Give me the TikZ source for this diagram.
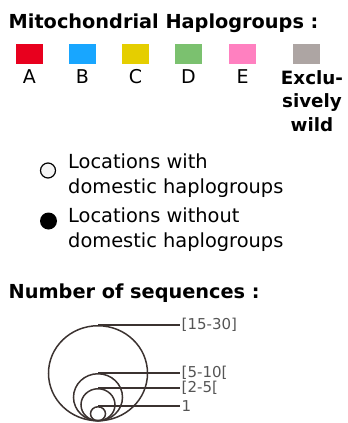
\documentclass[tikz,border=0pt]{standalone}
\usepackage{fontspec}
\setmainfont{DejaVu Sans}
\usetikzlibrary{shapes.geometric}
\definecolor{hapA}{HTML}{E8001E}
\definecolor{hapB}{HTML}{18A6FF}
\definecolor{hapC}{HTML}{E5CE00}
\definecolor{hapD}{HTML}{7BC16F}
\definecolor{hapE}{HTML}{FF80C0}
\definecolor{hapW}{HTML}{ADA5A3}
\definecolor{ringcol}{HTML}{3B3230}
\definecolor{sizetext}{HTML}{555555}
\begin{document}
\begin{tikzpicture}[x=1pt,y=-1pt,
  heading/.style={anchor=base west,inner sep=0pt,font=\bfseries\fontsize{19.3}{23}\selectfont},
  swatch/.style={rectangle,draw=none,minimum width=27pt,minimum height=20pt,inner sep=0pt},
  swlabel/.style={anchor=base,inner sep=0pt,font=\fontsize{19}{22}\selectfont},
  legtext/.style={anchor=north west,inner sep=0pt,align=left,font=\fontsize{19.4}{25.2}\selectfont},
  ring/.style={ellipse,draw=ringcol,line width=1.5pt,inner sep=0pt,anchor=south},
  lead/.style={draw=ringcol,line width=1.1pt},
  sizelabel/.style={anchor=west,inner sep=1.5pt,text=sizetext,font=\fontsize{15}{17}\selectfont}]
\useasboundingbox (0,0) rectangle (348,423);

% Haplogroup colour key
\node[heading] (title) at (8.5,28) {Mitochondrial Haplogroups :};
\node[swatch,fill=hapA] (sA) at (29.3,54) {};
\node[swatch,fill=hapB] (sB) at (82.5,54) {};
\node[swatch,fill=hapC] (sC) at (135.5,54) {};
\node[swatch,fill=hapD] (sD) at (188.5,54) {};
\node[swatch,fill=hapE] (sE) at (242.5,54) {};
\node[swatch,fill=hapW] (sW) at (306.5,54) {};
\node[swlabel] (lA) at (29.3,83) {A};
\node[swlabel] (lB) at (82.5,83) {B};
\node[swlabel] (lC) at (135.5,83) {C};
\node[swlabel] (lD) at (188.5,83) {D};
\node[swlabel] (lE) at (242.5,83) {E};
\node[anchor=north,inner sep=0pt,align=center,font=\bfseries\fontsize{18.3}{23.5}\selectfont] (lW) at (312,70) {Exclu-\\sively\\wild};

% Domestic / wild location markers
\node[circle,draw=black,fill=black!4,line width=1.2pt,minimum size=15pt,inner sep=0pt] (open) at (48,170.5) {};
\node[circle,fill=black,minimum size=17pt,inner sep=0pt] (full) at (48.5,221) {};
\node[legtext] (topen) at (68,153.7) {Locations with\\domestic haplogroups};
\node[legtext] (tfull) at (68,207.1) {Locations without\\domestic haplogroups};

% Sample-size key: nested rings sharing a bottom point
\node[heading] (seqtitle) at (8.5,298.5) {Number of sequences :};
\coordinate (base) at (98,421.5);
\coordinate (labx) at (180,0);
\node[ring,minimum width=99pt,minimum height=95pt] (r4) at (base) {};
\node[ring,minimum width=49pt,minimum height=47pt] (r3) at (base) {};
\node[ring,minimum width=34pt,minimum height=32pt] (r2) at (base) {};
\node[ring,minimum width=15pt,minimum height=14pt] (r1) at (base) {};
\node[sizelabel] (t4) at (labx |- r4.north) {[15-30]};
\node[sizelabel] (t3) at (labx |- r3.north) {[5-10[};
\node[sizelabel] (t2) at (labx |- r2.north) {[2-5[};
\node[sizelabel] (t1) at (labx |- r1.north) {1};
\draw[lead] (r4.north) -- (t4.west);
\draw[lead] (r3.north) -- (t3.west);
\draw[lead] (r2.north) -- (t2.west);
\draw[lead] (r1.north) -- (t1.west);
\end{tikzpicture}
\end{document}
